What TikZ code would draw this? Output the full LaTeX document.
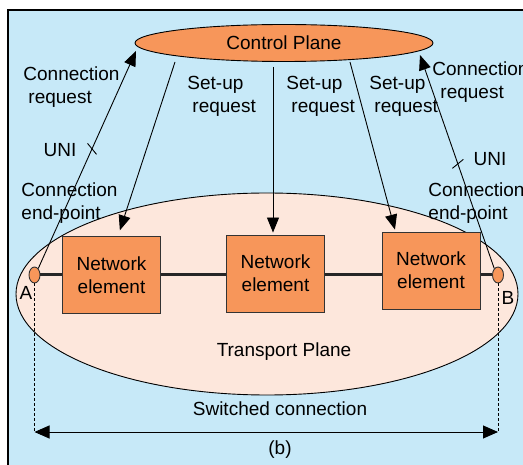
\documentclass[tikz,border=0pt]{standalone}
\usepackage{fontspec}
\setmainfont{Liberation Sans}
\usetikzlibrary{arrows.meta}
\usetikzlibrary{shapes.geometric}
\usetikzlibrary{positioning}

\definecolor{planeblue}{RGB}{199,233,248}
\definecolor{neorange}{RGB}{247,150,90}
\definecolor{tpfill}{RGB}{253,231,220}

\begin{document}
\begin{tikzpicture}[x=1pt,y=-1pt,line width=0.9pt,
    every node/.style={font=\fontsize{19}{23}\selectfont,inner sep=0pt},
    netelem/.style={draw=black!80,fill=neorange,minimum width=98pt,minimum height=77pt,align=center},
    endpt/.style={ellipse,draw=black!80,fill=neorange,minimum width=11pt,minimum height=16pt},
    arr/.style={-{Triangle[length=15pt,width=12pt]}},
    lbl/.style={align=left,anchor=west}]
      \useasboundingbox (0,0) rectangle (523,465);
      \draw[fill=planeblue,line width=1.2pt] (8,10) rectangle (540,480);

      % the two planes
      \node[ellipse,draw,fill=tpfill,minimum width=502pt,minimum height=202pt] (tp) at (267,294) {};
      \node at (284,352) {Transport Plane};
      \node[ellipse,draw,fill=neorange,minimum width=298pt,minimum height=37pt] (cp) at (284,43) {Control Plane};

      % end points, path and network elements
      \node[endpt] (A) at (34.5,275) {};
      \node[endpt] (B) at (498,275) {};
      \draw[line width=3pt,black!85] (A) -- (B);
      \node[netelem] (ne1) at (111.5,275) {Network\\element};
      \node[netelem] (ne2) at (275.5,273.5) {Network\\element};
      \node[netelem] (ne3) at (431,270.5) {Network\\element};
      \node[below left=5pt and -2.5pt of A] {A};
      \node[below right=10pt and -1pt of B] {B};

      % switched connection
      \coordinate (swA) at (A |- 0,432);
      \coordinate (swB) at (B |- 0,432);
      \draw[dash pattern=on 3pt off 2pt] (A) -- (swA) (B) -- (swB);
      \draw[{Triangle[length=15pt,width=13pt]}-{Triangle[length=15pt,width=13pt]}] (swA) -- (swB);
      \node at (280,409) {Switched connection};
      \node at (280,450) {(b)};

      % set-up requests
      \coordinate (su1) at (175,62);
      \coordinate (su2) at (273,67);
      \coordinate (su3) at (350,62);
      \draw[arr,shorten >=6pt] (su1) -- ([xshift=6.5pt]ne1.north);
      \draw[arr,shorten >=2pt] (su2) -- (su2 |- ne2.north);
      \draw[arr,shorten >=2pt] (su3) -- ([xshift=-35.5pt]ne3.north);
      \foreach\x in {187,286,369} {
        \node[lbl] at (\x,96) {Set-up\\\hspace*{5pt}request};
      }

      % connection requests over the UNI
      \coordinate (crA) at (136,51);
      \coordinate (crB) at (420,55);
      \draw[arr] (A.60) -- coordinate[pos=0.55] (uniA) (crA);
      \draw[arr] (B.120) -- coordinate[pos=0.49] (uniB) (crB);
      \draw ([shift={(-4.5,-5.5)}]uniA) -- ([shift={(4.5,5.5)}]uniA);
      \draw ([shift={(-5.5,4.5)}]uniB) -- ([shift={(5.5,-4.5)}]uniB);
      \node at (60,150) {UNI};
      \node at (490,159) {UNI};
      \node[lbl] at (23,87.5) {Connection\\\hspace*{5pt}request};
      \node[lbl] at (432,82.5) {Connection\\\hspace*{8pt}request};
      \node[lbl] at (21,203) {Connection\\end-point};
      \node[lbl] at (428,203) {Connection\\end-point};
\end{tikzpicture}
\end{document}
